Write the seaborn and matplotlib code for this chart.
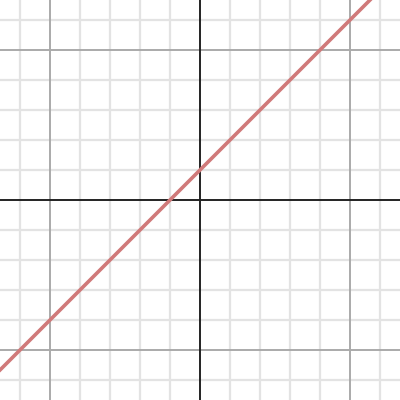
import matplotlib
matplotlib.use("Agg")
import matplotlib.pyplot as plt
import seaborn as sns
import numpy as np
import pandas as pd

# Line y = x + 1
x_vals = [-7, 7]
y_vals = [-6, 8]

minor_ticks = list(range(-6, 7))
major_ticks = [-5, 0, 5]

sns.set_style("white")
fig = plt.figure(figsize=(4, 4), dpi=100)
ax = fig.add_axes([0, 0, 1, 1])
lim = 200 / 30
ax.set_xlim(-lim, lim)
ax.set_ylim(-lim, lim)

for t in minor_ticks:
    if t in major_ticks:
        continue
    ax.axvline(t, color="#e3e3e3", lw=1.6, zorder=0)
    ax.axhline(t, color="#e3e3e3", lw=1.6, zorder=0)
for t in major_ticks:
    if t == 0:
        continue
    ax.axvline(t, color="#aaaaaa", lw=1.4, zorder=1)
    ax.axhline(t, color="#aaaaaa", lw=1.4, zorder=1)
ax.axvline(0, color="#222222", lw=1.4, zorder=2)
ax.axhline(0, color="#222222", lw=1.4, zorder=2)

df = pd.DataFrame({"x": x_vals, "y": y_vals})
sns.lineplot(data=df, x="x", y="y", ax=ax, color="#d07a7a", lw=2.6, zorder=3)

ax.set_axis_off()
fig.savefig("out.png", dpi=100)
